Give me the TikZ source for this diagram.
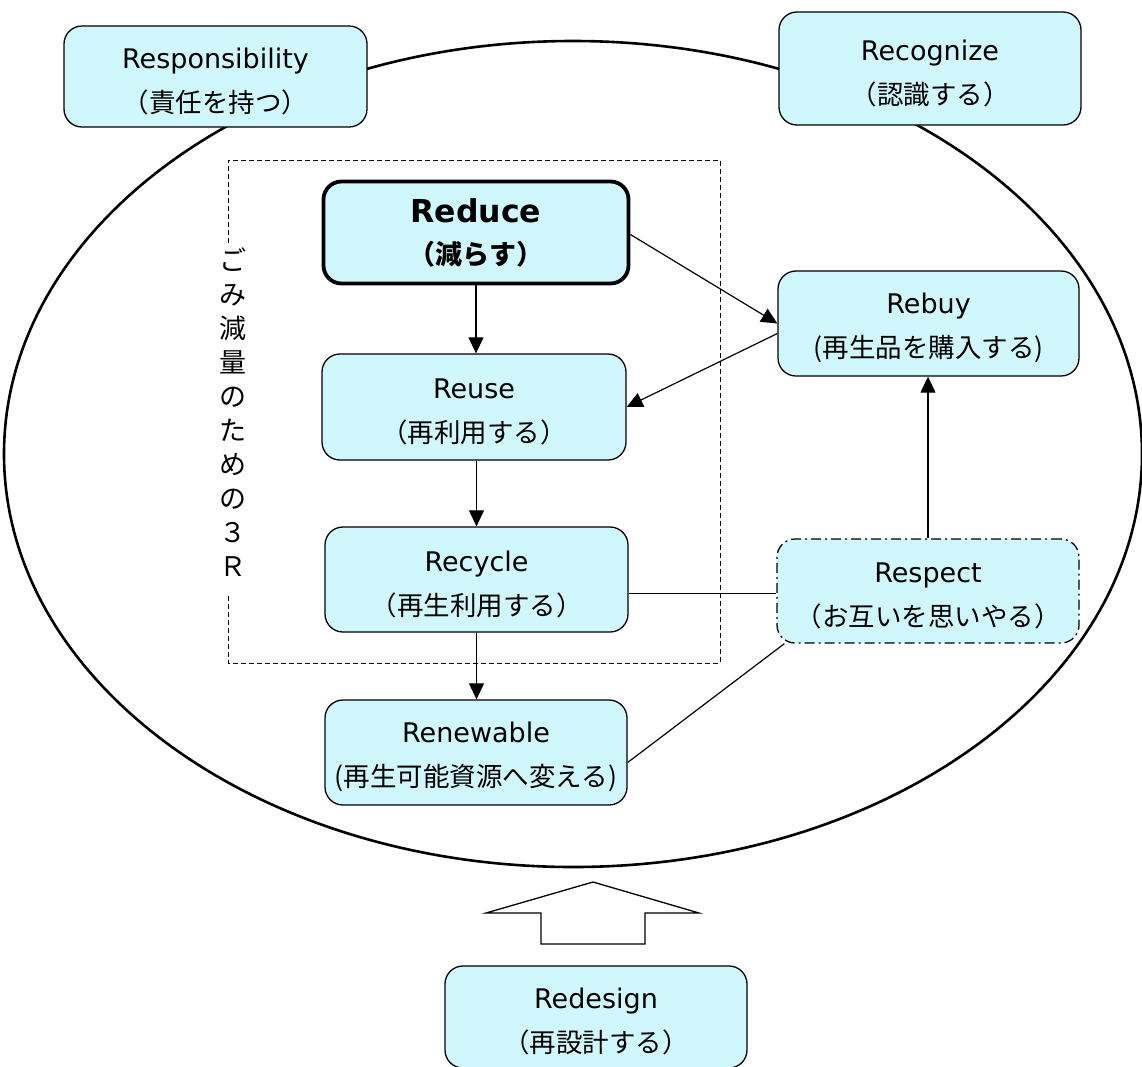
\documentclass[tikz,border=0pt]{standalone}
\usepackage{fontspec}
\setmainfont{DejaVu Sans}
\newfontfamily\jp{Noto Sans CJK JP}
\usetikzlibrary{arrows.meta,calc}
\definecolor{boxfill}{RGB}{208,248,252}
\newcommand{\jpl}[1]{{\jp\fontsize{26.5}{44}\selectfont #1}}
\newcommand{\twoline}[2]{\rule{0pt}{30pt}#1\\\jpl{#2}}
\begin{document}
\begin{tikzpicture}[x=1pt,y=-1pt,
  box/.style={draw, line width=1.3pt, fill=boxfill, rounded corners=18pt, align=center,
    inner sep=0pt, minimum width=302pt, minimum height=104pt,
    font=\fontsize{27}{44}\selectfont},
  arr/.style={line width=1.2pt, -{Triangle[length=16pt,width=15pt]}},
  conn/.style={line width=1.2pt}]
\useasboundingbox (0,0) rectangle (1142,1066);
% big ellipse
\draw[line width=2.6pt] (573,454) ellipse [x radius=569pt, y radius=413pt];
% dashed frame with gap for the vertical title
\draw[line width=0.9pt, dash pattern=on 5pt off 3pt]
  (228,243) -- (228,160) -- (720,160) -- (720,663) -- (228,663) -- (228,596);
\node[align=center, inner sep=0pt, font=\jp\fontsize{27}{34}\selectfont] (vt) at (233,412)
  {ご\\み\\減\\量\\の\\た\\め\\の\\３\\Ｒ};
% nodes
\node[box, minimum width=303pt, minimum height=101pt] (resp) at (215.5,76.5)
  {\twoline{Responsibility}{（責任を持つ）}};
\node[box, minimum height=113pt] (recog) at (930,68.5)
  {\twoline{Recognize}{（認識する）}};
\node[box, line width=3.8pt, minimum width=305pt, minimum height=102pt,
  font=\bfseries\fontsize{31.5}{42}\selectfont] (reduce) at (476,232.5)
  {Reduce\\{\jp\fontsize{27}{42}\selectfont （減らす）}};
\node[box, minimum width=304pt, minimum height=106pt] (reuse) at (474,407)
  {\twoline{Reuse}{（再利用する）}};
\node[box, minimum width=303pt, minimum height=105pt] (recycle) at (476.5,579.5)
  {\twoline{Recycle}{（再生利用する）}};
\node[box, minimum width=302pt, minimum height=105pt] (renew) at (476,752.5)
  {\twoline{Renewable}{(再生可能資源へ変える)}};
\node[box, minimum width=301pt, minimum height=105pt] (rebuy) at (928.5,323.5)
  {\twoline{Rebuy}{(再生品を購入する)}};
\node[box, minimum width=302pt, minimum height=104pt,
  dash pattern=on 10pt off 4pt on 2pt off 4pt] (respect) at (928,591)
  {\twoline{Respect}{（お互いを思いやる）}};
\node[box, minimum width=302pt, minimum height=102pt] (redesign) at (596,1017)
  {\twoline{Redesign}{（再設計する）}};
% connectors
\draw[arr] (reduce.south) -- (reduce.south |- reuse.north);
\draw[arr] (recycle.north |- reuse.south) -- (recycle.north);
\draw[arr] (recycle.south) -- (recycle.south |- renew.north);
\draw[arr] ([yshift=-2pt]reduce.east) -- (rebuy.west);
\draw[arr] ([yshift=-10pt]rebuy.west) -- (reuse.east);
\draw[arr] (respect.north) -- (respect.north |- rebuy.south);
\draw[conn] ([yshift=-14pt]recycle.east) -- ([yshift=-14pt]recycle.east -| respect.west);
\draw[conn] ([yshift=-10pt]renew.east) -- ([xshift=8pt]respect.south west);
% big hollow arrow
\draw[line width=1.3pt, fill=white] (593,882) -- (699,913) -- (645,913) -- (645,944)
  -- (541,944) -- (541,913) -- (486,913) -- cycle;
\end{tikzpicture}
\end{document}
